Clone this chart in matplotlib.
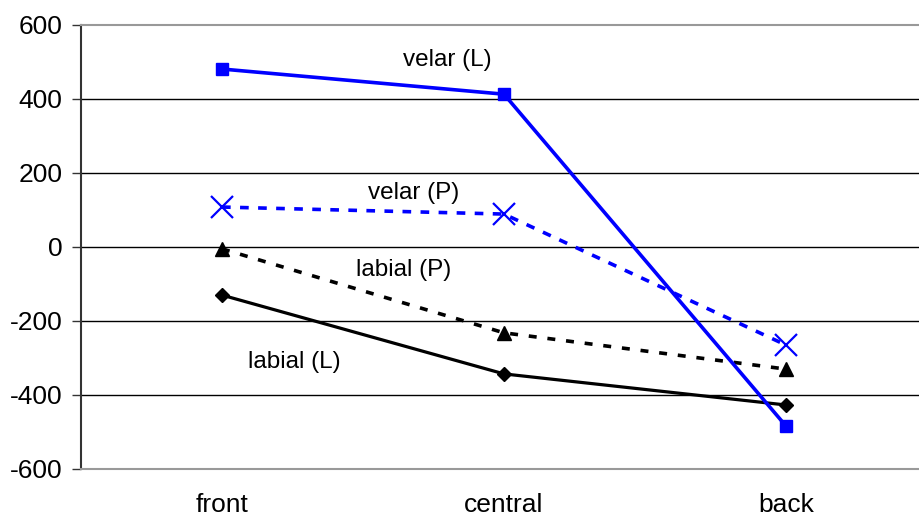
import matplotlib
matplotlib.use("Agg")
import matplotlib.pyplot as plt

plt.rcParams['font.family'] = ['Liberation Sans', 'DejaVu Sans']

categories = ["front", "central", "back"]
velar_L = [481, 413, -484]
velar_P = [108, 89, -265]
labial_P = [-5, -232, -330]
labial_L = [-130, -343, -427]
y_ticks = [-600, -400, -200, 0, 200, 400, 600]

fig = plt.figure(figsize=(9.2, 5.16), dpi=100)
ax = fig.add_axes([81 / 920, 1 - 469 / 516, 846 / 920, 444 / 516])

x = list(range(len(categories)))

ax.plot(x, labial_L, color="black", lw=2.3, marker="D", ms=7.5, zorder=3)
ax.plot(x, labial_P, color="black", lw=2.6, ls=(0, (2.2, 3.0)), marker="^",
        ms=10, zorder=3)
ax.plot(x, velar_P, color="#0000ff", lw=2.6, ls=(0, (2.4, 2.6)), marker="x",
        ms=16, mew=1.6, zorder=3)
ax.plot(x, velar_L, color="#0000ff", lw=2.6, marker="s", ms=9, zorder=4)

ax.set_xlim(-0.5, 2.5)
ax.set_ylim(-600, 600)
ax.set_yticks(y_ticks)
ax.set_yticklabels([str(v) for v in y_ticks], fontsize=19)
ax.set_xticks(x)
ax.set_xticklabels(categories, fontsize=19)
ax.tick_params(axis="x", length=0, pad=17)
ax.tick_params(axis="y", length=6.5, width=1, direction="out", pad=7,
               color="#333333")

for v in y_ticks[1:-1]:
    ax.axhline(v, color="black", lw=1, zorder=1)

ax.spines["top"].set_color("#999999")
ax.spines["top"].set_linewidth(1.5)
ax.spines["bottom"].set_color("#999999")
ax.spines["bottom"].set_linewidth(1.5)
ax.spines["left"].set_color("#333333")
ax.spines["left"].set_linewidth(1.5)
ax.spines["right"].set_visible(False)

ax.text(0.80, 505, "velar (L)", fontsize=17.5, ha="center", va="center")
ax.text(0.68, 146, "velar (P)", fontsize=17.5, ha="center", va="center")
ax.text(0.645, -62, "labial (P)", fontsize=17.5, ha="center", va="center")
ax.text(0.255, -311, "labial (L)", fontsize=17.5, ha="center", va="center")

fig.savefig("out.png", dpi=100)
